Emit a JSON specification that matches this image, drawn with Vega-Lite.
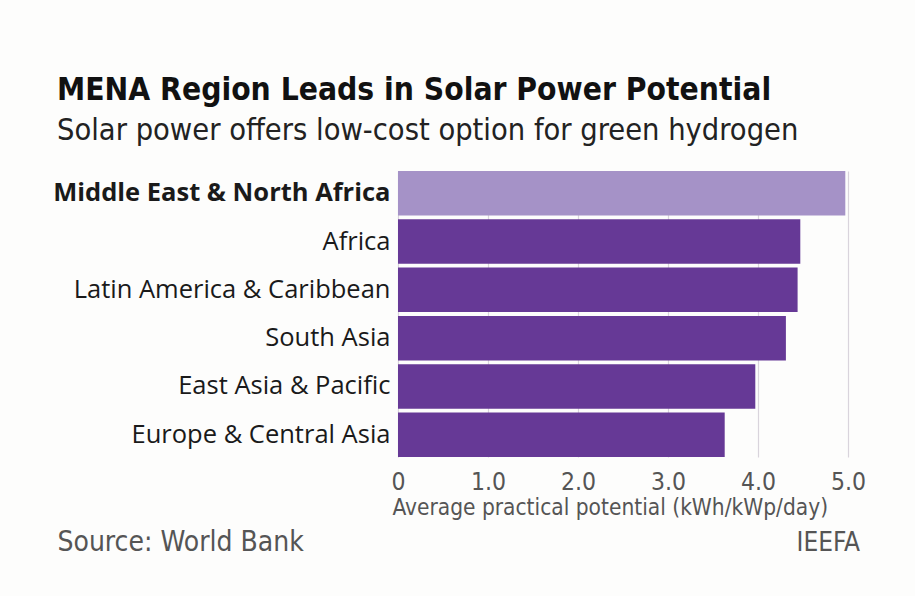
{
  "$schema": "https://vega.github.io/schema/vega-lite/v6.json",
  "autosize": {"type": "none"},
  "width": 450,
  "height": 286,
  "padding": {"left": 398, "top": 171, "right": 67, "bottom": 139},
  "background": "#fdfdfc",
  "title": {
    "text": "MENA Region Leads in Solar Power Potential",
    "subtitle": "Solar power offers low-cost option for green hydrogen",
    "anchor": "start",
    "frame": "group",
    "dx": -341,
    "offset": 25,
    "font": "DejaVu Sans Condensed, Roboto",
    "fontSize": 31.5,
    "fontWeight": "bold",
    "color": "#111111",
    "subtitleFont": "DejaVu Sans Condensed, Roboto",
    "subtitleFontSize": 30.5,
    "subtitleColor": "#222222",
    "subtitlePadding": 9
  },
  "config": {
    "view": {"stroke": null}
  },
  "layer": [
    {
      "data": {
        "values": [
          {"region": "Middle East & North Africa", "potential": 4.97},
          {"region": "Africa", "potential": 4.47},
          {"region": "Latin America & Caribbean", "potential": 4.44},
          {"region": "South Asia", "potential": 4.31},
          {"region": "East Asia & Pacific", "potential": 3.97},
          {"region": "Europe & Central Asia", "potential": 3.63}
        ]
      },
      "mark": {"type": "bar"},
      "encoding": {
        "y": {
          "field": "region",
          "type": "nominal",
          "sort": null,
          "scale": {"paddingInner": 0.08, "paddingOuter": 0.0},
          "axis": {
            "title": "Source: World Bank",
            "titleAngle": 0,
            "titleAlign": "left",
            "titleBaseline": "alphabetic",
            "titleX": -341,
            "titleY": 379,
            "titleFont": "DejaVu Sans Condensed, Roboto",
            "titleFontSize": 28,
            "titleFontWeight": "normal",
            "titleColor": "#555555",
            "domain": false,
            "ticks": false,
            "labelPadding": 8,
            "labelFont": "Open Sans",
            "labelFontSize": 25.5,
            "labelColor": "#1a1a1a",
            "labelFontWeight": {
              "condition": {"test": "datum.value == 'Middle East & North Africa'", "value": "bold"},
              "value": "normal"
            },
            "labelLimit": 400
          }
        },
        "x": {
          "field": "potential",
          "type": "quantitative",
          "scale": {"domain": [0, 5], "nice": false},
          "axis": {
            "title": "Average practical potential (kWh/kWp/day)",
            "titleAnchor": "start",
            "titleAlign": "left",
            "titleX": -6,
            "titleFont": "DejaVu Sans Condensed, Roboto",
            "titleFontSize": 22.5,
            "titleFontWeight": "normal",
            "titleColor": "#555555",
            "titlePadding": 3,
            "values": [0, 1, 2, 3, 4, 5],
            "labelExpr": "datum.value == 0 ? '0' : format(datum.value, '.1f')",
            "labelFlush": false,
            "labelFont": "DejaVu Sans Condensed, Roboto",
            "labelFontSize": 24.5,
            "labelColor": "#555555",
            "labelPadding": 13,
            "domain": false,
            "ticks": false,
            "grid": true,
            "gridColor": "#d9d4dc",
            "gridWidth": 1.2
          }
        },
        "color": {
          "condition": {"test": "datum.region == 'Middle East & North Africa'", "value": "#a592c7"},
          "value": "#663996"
        }
      }
    },
    {
      "data": {"values": [{"note": "IEEFA"}]},
      "mark": {
        "type": "text",
        "align": "right",
        "baseline": "alphabetic",
        "dx": 12,
        "dy": 116,
        "font": "DejaVu Sans Condensed, Roboto",
        "fontSize": 26,
        "color": "#555555"
      },
      "encoding": {
        "text": {"field": "note"},
        "x": {"datum": 5},
        "y": {"datum": "Europe & Central Asia"}
      }
    }
  ]
}
